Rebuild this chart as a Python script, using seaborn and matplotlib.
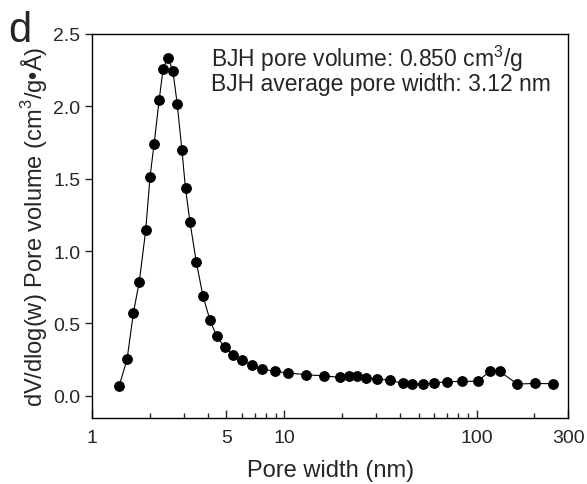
import matplotlib
matplotlib.use('Agg')
import matplotlib.pyplot as plt
from matplotlib.ticker import FixedLocator, NullFormatter
import seaborn as sns
import pandas as pd

# BJH pore size distribution
pore_width = [1.38, 1.52, 1.64, 1.76, 1.90, 2.00, 2.10, 2.23, 2.34, 2.48, 2.63, 2.77,
              2.93, 3.06, 3.23, 3.48, 3.77, 4.10, 4.45, 4.89, 5.42, 6.04, 6.76, 7.68,
              8.90, 10.5, 12.9, 16.0, 19.4, 21.6, 23.9, 26.7, 30.4, 35.4, 41.3, 46.4,
              52.7, 60.2, 69.8, 84.2, 101.6, 118, 132, 163, 201, 249]
pore_volume = [0.065, 0.253, 0.575, 0.789, 1.145, 1.513, 1.738, 2.041, 2.26, 2.334, 2.246, 2.017,
               1.699, 1.432, 1.198, 0.927, 0.690, 0.524, 0.41, 0.336, 0.283, 0.246, 0.21, 0.186,
               0.168, 0.158, 0.145, 0.138, 0.127, 0.134, 0.134, 0.12, 0.115, 0.108, 0.085, 0.081,
               0.081, 0.088, 0.097, 0.099, 0.101, 0.172, 0.168, 0.081, 0.085, 0.083]

x_ticks = [1, 5, 10, 100, 300]
x_minor = [2, 3, 4, 6, 7, 8, 9, 20, 30, 40, 50, 60, 70, 80, 90, 200]
y_ticks = [0.0, 0.5, 1.0, 1.5, 2.0, 2.5]

df = pd.DataFrame({'w': pore_width, 'v': pore_volume})

sns.set_style('ticks')
plt.rcParams['font.family'] = ['Liberation Sans', 'DejaVu Sans']
plt.rcParams['mathtext.fontset'] = 'custom'
plt.rcParams['mathtext.rm'] = 'Liberation Sans'

fig = plt.figure(figsize=(5.87, 4.85), dpi=100)
ax = fig.add_axes([0.157, 0.136, 0.811, 0.792])

sns.lineplot(data=df, x='w', y='v', sort=False, color='black', linewidth=0.8,
             marker='o', markersize=7, markeredgecolor='black', ax=ax)

ax.set_xscale('log')
ax.set_xlim(1, 300)
ax.set_ylim(-0.154, 2.5)
ax.xaxis.set_major_locator(FixedLocator(x_ticks))
ax.xaxis.set_minor_locator(FixedLocator(x_minor))
ax.xaxis.set_minor_formatter(NullFormatter())
ax.set_xticklabels([str(t) for t in x_ticks])
ax.set_yticks(y_ticks)
ax.set_yticklabels([f'{t:.1f}' for t in y_ticks])

ax.tick_params(axis='x', which='major', direction='in', length=6, width=1, labelsize=14, pad=8)
ax.tick_params(axis='x', which='minor', direction='in', length=3.5, width=1)
ax.tick_params(axis='y', which='major', direction='out', length=5, width=1, labelsize=14)
for s in ax.spines.values():
    s.set_linewidth(1)
    s.set_color('black')

ax.set_xlabel('Pore width (nm)', fontsize=17, labelpad=9)
ax.set_ylabel('dV/dlog(w) Pore volume (cm$^3$/g\u2022\u00c5)', fontsize=17, labelpad=2)

ax.text(0.25, 0.978, 'BJH pore volume: 0.850 cm$^3$/g', transform=ax.transAxes,
        fontsize=16.5, va='top', ha='left')
ax.text(0.25, 0.9, 'BJH average pore width: 3.12 nm', transform=ax.transAxes,
        fontsize=16.5, va='top', ha='left')

fig.text(0.014, 0.977, 'd', fontsize=30, va='top', ha='left')

fig.savefig('out.png', dpi=100)
